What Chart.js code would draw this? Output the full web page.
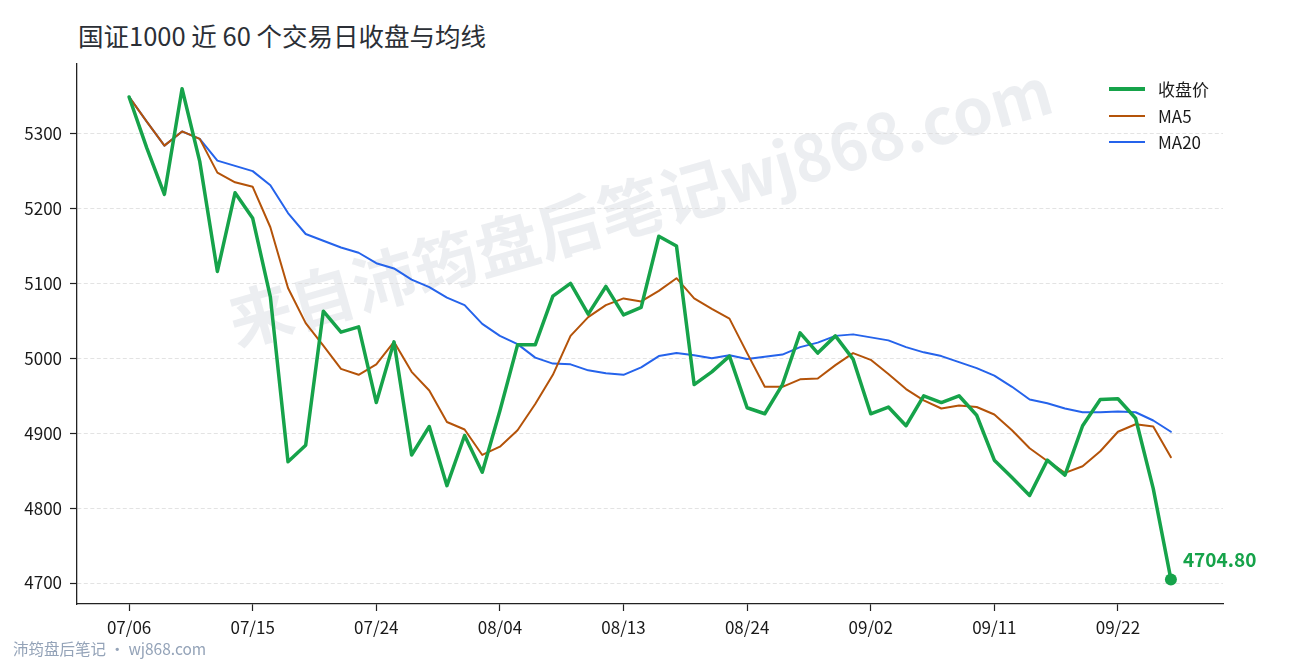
<!DOCTYPE html>
<html lang="zh-CN">
<head>
    <meta charset="UTF-8">
    <title>国证1000 近 60 个交易日收盘与均线</title>
    <style>
        html, body {
            margin: 0;
            padding: 0;
            background: #fff;
        }
        body {
            position: relative;
            width: 1290px;
            height: 660px;
            overflow: hidden;
            font-family: "Noto Sans CJK SC", "Noto Sans", sans-serif;
        }
        #chart {
            position: absolute;
            left: 0;
            top: 0;
        }
        .title {
            position: absolute;
            left: 78px;
            top: 17px;
            font-size: 25.5px;
            line-height: 36px;
            color: #2b2f36;
            white-space: nowrap;
        }
        .footer {
            position: absolute;
            left: 13px;
            top: 636px;
            font-size: 15.5px;
            line-height: 24px;
            color: #94a3b8;
            white-space: nowrap;
        }
        .legend-row {
            position: absolute;
            left: 1109px;
            height: 24px;
            line-height: 24px;
            font-size: 17px;
            color: #1a1a1a;
            white-space: nowrap;
        }
        .legend-line {
            position: absolute;
            left: 0;
            width: 36px;
        }
        .legend-text {
            position: absolute;
            left: 49px;
            top: 0;
        }
    </style>
</head>
<body>
    <div class="title">国证1000 近 60 个交易日收盘与均线</div>
    <canvas id="chart" width="1290" height="660"></canvas>
    <div id="legend"></div>
    <div class="footer">沛筠盘后笔记 · wj868.com</div>

    <script src="https://cdn.jsdelivr.net/npm/chart.js"></script>
    <script>
        // 交易日
        const dates = [
            '07/06', '07/07', '07/08', '07/09', '07/10', '07/13', '07/14', '07/15', '07/16', '07/17',
            '07/20', '07/21', '07/22', '07/23', '07/24', '07/27', '07/28', '07/29', '07/30', '07/31',
            '08/03', '08/04', '08/05', '08/06', '08/07', '08/10', '08/11', '08/12', '08/13', '08/14',
            '08/17', '08/18', '08/19', '08/20', '08/21', '08/24', '08/25', '08/26', '08/27', '08/28',
            '08/31', '09/01', '09/02', '09/03', '09/04', '09/07', '09/08', '09/09', '09/10', '09/11',
            '09/14', '09/15', '09/16', '09/17', '09/18', '09/21', '09/22', '09/23', '09/24', '09/25'
        ];

        // 收盘价
        const closes = [
            5349, 5281, 5219, 5360, 5263, 5116, 5221, 5187, 5082, 4862,
            4884, 5063, 5035, 5042, 4941, 5022, 4871, 4909, 4830, 4897,
            4848, 4930, 5018, 5018, 5083, 5100, 5059, 5096, 5058, 5068,
            5163, 5150, 4965, 4982, 5003, 4934, 4926, 4965, 5034, 5007,
            5030, 4999, 4926, 4935, 4910, 4950, 4941, 4950, 4924, 4864,
            4841, 4817, 4864, 4844, 4910, 4945, 4946, 4920, 4826, 4704.80
        ];

        // MA5
        const ma5 = [
            5349, 5316, 5284, 5303, 5293, 5248, 5235, 5229, 5175, 5094,
            5047, 5017, 4986, 4978, 4992, 5022, 4982, 4957, 4915, 4905,
            4871, 4882, 4904, 4939, 4978, 5030, 5055, 5071, 5080, 5076,
            5090, 5107, 5080, 5066, 5053, 5007, 4962, 4962, 4972, 4973,
            4991, 5007, 4998, 4979, 4959, 4944, 4933, 4937, 4935, 4925,
            4904, 4880, 4863, 4847, 4856, 4876, 4902, 4912, 4909, 4868
        ];

        // MA20
        const ma20 = [
            5349, 5316, 5284, 5303, 5293, 5264, 5257, 5250, 5231, 5194,
            5166, 5157, 5148, 5141, 5127, 5120, 5105, 5095, 5081, 5071,
            5046, 5030, 5019, 5001, 4993, 4992, 4984, 4980, 4978, 4988,
            5003, 5007, 5004, 5000, 5004, 4999, 5002, 5005, 5015, 5021,
            5030, 5032, 5028, 5024, 5015, 5008, 5003, 4995, 4987, 4977,
            4962, 4945, 4940, 4933, 4928, 4928, 4929, 4928, 4917, 4902
        ];

        // 坐标轴刻度
        const xTickLabels = ['07/06', '07/15', '07/24', '08/04', '08/13', '08/24', '09/02', '09/11', '09/22'];
        const yTicks = [4700, 4800, 4900, 5000, 5100, 5200, 5300];

        const seriesNames = ['收盘价', 'MA5', 'MA20'];
        const watermarkText = '来自沛筠盘后笔记wj868.com';

        const GREEN = '#16a34a';
        const ORANGE = '#b45309';
        const BLUE = '#2563eb';
        const FONT = '"Noto Sans CJK SC", "Noto Sans", sans-serif';

        Chart.defaults.font.family = FONT;

        const toPoints = arr => arr.map((v, i) => ({ x: i, y: v }));

        // 水印，画在网格线下面
        const watermarkPlugin = {
            id: 'watermark',
            beforeDraw(chart) {
                const ctx = chart.ctx;
                ctx.save();
                ctx.translate(640, 206);
                ctx.rotate(-16 * Math.PI / 180);
                ctx.font = 'bold 64px ' + FONT;
                ctx.fillStyle = 'rgba(100, 116, 139, 0.12)';
                ctx.textAlign = 'center';
                ctx.textBaseline = 'middle';
                ctx.fillText(watermarkText, 0, 0);
                ctx.restore();
            }
        };

        // 最新收盘价标注
        const lastLabelPlugin = {
            id: 'lastLabel',
            afterDatasetsDraw(chart) {
                const meta = chart.getDatasetMeta(0);
                const pt = meta.data[meta.data.length - 1];
                const ctx = chart.ctx;
                ctx.save();
                ctx.font = 'bold 19px ' + FONT;
                ctx.fillStyle = GREEN;
                ctx.textAlign = 'left';
                ctx.textBaseline = 'middle';
                ctx.fillText(closes[closes.length - 1].toFixed(2), pt.x + 12, pt.y - 20);
                ctx.restore();
            }
        };

        const chart = new Chart(document.getElementById('chart'), {
            type: 'line',
            data: {
                datasets: [
                    {
                        label: seriesNames[0],
                        data: toPoints(closes),
                        borderColor: GREEN,
                        backgroundColor: GREEN,
                        borderWidth: 3.5,
                        pointRadius: c => (c.dataIndex === closes.length - 1 ? 6 : 0),
                        pointBorderWidth: 0,
                        pointHoverRadius: 0
                    },
                    {
                        label: seriesNames[1],
                        data: toPoints(ma5),
                        borderColor: ORANGE,
                        backgroundColor: ORANGE,
                        borderWidth: 2,
                        pointRadius: 0
                    },
                    {
                        label: seriesNames[2],
                        data: toPoints(ma20),
                        borderColor: BLUE,
                        backgroundColor: BLUE,
                        borderWidth: 2,
                        pointRadius: 0
                    }
                ]
            },
            options: {
                responsive: false,
                animation: false,
                events: [],
                elements: {
                    line: {
                        tension: 0,
                        borderJoinStyle: 'round',
                        borderCapStyle: 'round'
                    }
                },
                layout: {
                    padding: { top: 64, right: 67, left: 0, bottom: 0 }
                },
                plugins: {
                    legend: { display: false },
                    title: { display: false },
                    tooltip: { enabled: false }
                },
                scales: {
                    x: {
                        type: 'linear',
                        min: -2.95,
                        max: dates.length - 1 + 2.95,
                        afterBuildTicks: scale => {
                            scale.ticks = xTickLabels.map(d => ({ value: dates.indexOf(d) }));
                        },
                        afterFit: scale => { scale.height = 56; },
                        ticks: {
                            callback: v => dates[v],
                            autoSkip: false,
                            maxRotation: 0,
                            color: '#1a1a1a',
                            font: { size: 17 },
                            padding: 6
                        },
                        grid: {
                            drawOnChartArea: false,
                            drawTicks: true,
                            tickLength: 7,
                            tickColor: '#222',
                            tickWidth: 1.2
                        },
                        border: { color: '#222', width: 1.3 }
                    },
                    y: {
                        min: 4672,
                        max: 5393,
                        afterBuildTicks: scale => {
                            scale.ticks = yTicks.map(v => ({ value: v }));
                        },
                        afterFit: scale => { scale.width = 77; },
                        ticks: {
                            callback: v => String(v),
                            color: '#1a1a1a',
                            font: { size: 17 },
                            padding: 8
                        },
                        grid: {
                            color: '#dcdcdc',
                            lineWidth: 0.8,
                            tickLength: 7,
                            tickColor: '#222',
                            tickWidth: 1.2
                        },
                        border: { color: '#222', width: 1.3, dash: [4, 2.5] }
                    }
                }
            },
            plugins: [watermarkPlugin, lastLabelPlugin]
        });

        // 图例
        const legendBox = document.getElementById('legend');
        const legendRows = [89, 116, 142];
        chart.data.datasets.forEach((ds, i) => {
            const row = document.createElement('div');
            row.className = 'legend-row';
            row.style.top = (legendRows[i] - 12) + 'px';
            const line = document.createElement('span');
            line.className = 'legend-line';
            line.style.background = ds.borderColor;
            line.style.height = ds.borderWidth + 'px';
            line.style.top = (12 - ds.borderWidth / 2) + 'px';
            const text = document.createElement('span');
            text.className = 'legend-text';
            text.textContent = ds.label;
            row.appendChild(line);
            row.appendChild(text);
            legendBox.appendChild(row);
        });
    </script>
</body>
</html>
